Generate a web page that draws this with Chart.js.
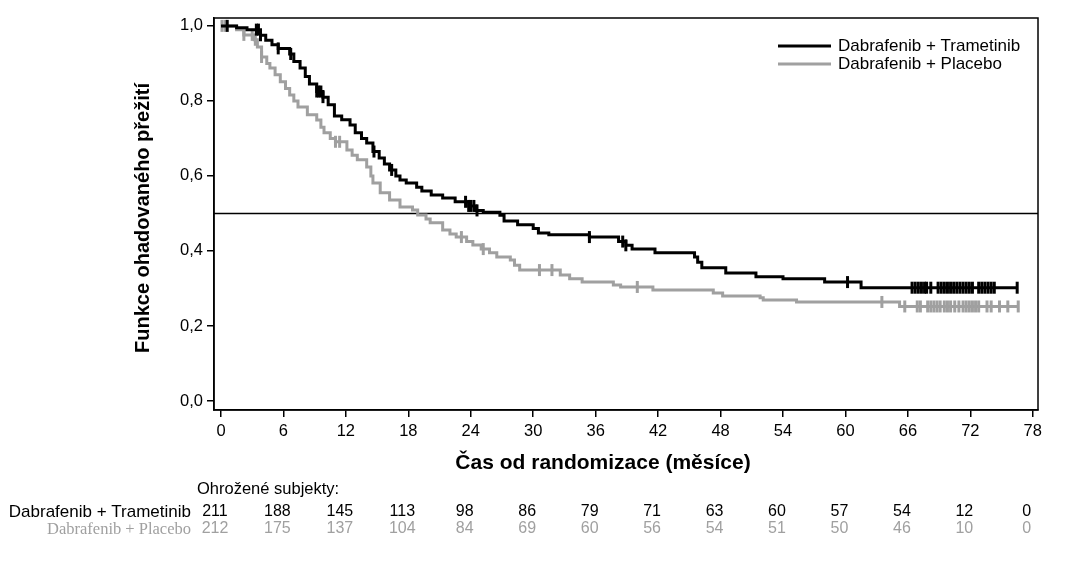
<!DOCTYPE html>
<html>
<head>
<meta charset="utf-8">
<script src="https://cdn.jsdelivr.net/npm/chart.js@4.4.1/dist/chart.umd.min.js"></script>
<style>
  html, body { margin: 0; padding: 0; background: #fff; }
</style>
</head>
<body>
<canvas id="km" width="1080" height="561"></canvas>
<script>
/* KM curve: Dabrafenib + Trametinib vs Dabrafenib + Placebo */
const xTicks = [0, 6, 12, 18, 24, 30, 36, 42, 48, 54, 60, 66, 72, 78];
const yTicks = [0, 0.2, 0.4, 0.6, 0.8, 1.0];

const tramTimes = [0, 1.5, 2.5, 3.8, 4.3, 4.9, 5.5, 6.6, 7.0, 7.6, 8.1, 8.5, 9.2, 9.8, 10.3, 10.9, 11.6, 12.4, 12.9, 13.5, 14.0, 14.6, 15.2, 15.7, 16.2, 16.8, 17.2, 17.8, 18.8, 19.3, 20.2, 21.3, 22.5, 23.8, 24.5, 25.2, 26.8, 27.2, 28.5, 30.0, 30.5, 31.5, 35.4, 38.2, 38.9, 39.5, 41.7, 45.5, 45.8, 46.2, 48.5, 51.4, 54.0, 58.0, 61.5, 76.5];
const tramSurv  = [1.0, 0.995, 0.99, 0.975, 0.962, 0.95, 0.94, 0.925, 0.905, 0.888, 0.865, 0.845, 0.825, 0.81, 0.79, 0.76, 0.75, 0.736, 0.715, 0.70, 0.688, 0.665, 0.648, 0.632, 0.616, 0.600, 0.589, 0.581, 0.570, 0.560, 0.549, 0.541, 0.531, 0.520, 0.508, 0.503, 0.495, 0.480, 0.470, 0.460, 0.448, 0.443, 0.437, 0.425, 0.415, 0.405, 0.395, 0.384, 0.37, 0.355, 0.341, 0.331, 0.326, 0.317, 0.302, 0.302];
const tramCensor = [0.6, 3.4, 3.6, 3.8, 5.5, 6.7, 9.2, 9.4, 9.6, 9.8, 14.7, 16.4, 23.5, 23.8, 24.0, 24.3, 24.6, 35.4, 38.6, 38.9, 60.2, 66.4, 66.7, 67.0, 67.3, 67.6, 67.8, 68.2, 68.9, 69.2, 69.5, 69.8, 70.1, 70.4, 70.7, 71.0, 71.3, 71.6, 71.9, 72.2, 72.8, 73.1, 73.4, 73.7, 74.0, 74.3, 76.5];

const placTimes = [0, 1.5, 2.2, 3.2, 3.5, 3.9, 4.4, 4.7, 5.2, 5.7, 6.2, 6.6, 7.0, 7.4, 8.3, 9.2, 9.6, 9.9, 10.5, 11.0, 12.1, 12.6, 13.1, 14.0, 14.4, 14.6, 15.3, 16.2, 17.2, 18.4, 18.9, 19.7, 20.1, 21.3, 22.0, 22.6, 23.6, 24.2, 25.0, 25.8, 26.5, 27.8, 28.2, 28.7, 32.6, 33.5, 34.7, 37.7, 38.4, 41.5, 47.3, 48.2, 51.8, 52.1, 55.3, 65.2, 76.6];
const placSurv  = [1.0, 0.99, 0.976, 0.963, 0.944, 0.917, 0.90, 0.888, 0.87, 0.851, 0.833, 0.816, 0.80, 0.784, 0.763, 0.749, 0.73, 0.715, 0.70, 0.691, 0.669, 0.655, 0.643, 0.624, 0.60, 0.581, 0.555, 0.536, 0.517, 0.509, 0.496, 0.485, 0.475, 0.456, 0.445, 0.437, 0.425, 0.416, 0.405, 0.395, 0.384, 0.376, 0.362, 0.349, 0.336, 0.326, 0.317, 0.309, 0.304, 0.296, 0.288, 0.280, 0.275, 0.269, 0.264, 0.252, 0.252];
const placCensor = [0.1, 0.4, 2.2, 3.0, 3.3, 3.9, 11.0, 11.4, 23.1, 25.2, 30.6, 31.8, 40.0, 63.5, 65.7, 66.9, 67.2, 67.9, 68.2, 68.5, 68.8, 69.1, 69.5, 69.8, 70.1, 70.5, 70.9, 71.3, 71.6, 71.9, 72.2, 72.5, 72.8, 73.6, 74.0, 74.8, 75.6, 76.6];

const riskTimes = [0, 6, 12, 18, 24, 30, 36, 42, 48, 54, 60, 66, 72, 78];
const riskTram  = [211, 188, 145, 113, 98, 86, 79, 71, 63, 60, 57, 54, 12, 0];
const riskPlac  = [212, 175, 137, 104, 84, 69, 60, 56, 54, 51, 50, 46, 10, 0];

const BLACK = '#000000';
const GREY = '#a0a0a0';
const SANS = "'Liberation Sans', Arial, sans-serif";
const SERIF = "'Liberation Serif', 'Times New Roman', serif";

function toPoints(times, surv) {
  return times.map((t, i) => ({ x: t, y: surv[i] }));
}

// survival value of the step curve at time t
function survAt(times, surv, t) {
  let v = surv[0];
  for (let i = 0; i < times.length; i++) {
    if (times[i] <= t) v = surv[i];
  }
  return v;
}

function censorPoints(cens, times, surv) {
  return cens.map(t => ({ x: t, y: survAt(times, surv, t) }));
}

const decorations = {
  id: 'decorations',
  beforeDatasetsDraw(chart) {
    const { ctx, chartArea: a, scales: { y } } = chart;
    ctx.save();
    ctx.strokeStyle = BLACK;
    ctx.lineWidth = 1.5;
    const yh = Math.round(y.getPixelForValue(0.5)) + 0.5;
    ctx.beginPath();
    ctx.moveTo(a.left, yh);
    ctx.lineTo(a.right, yh);
    ctx.stroke();
    ctx.restore();
  },
  afterDraw(chart) {
    const { ctx, chartArea: a, scales: { x } } = chart;
    ctx.save();
    // box
    ctx.strokeStyle = BLACK;
    ctx.lineWidth = 1.5;
    ctx.strokeRect(a.left, a.top, a.right - a.left, a.bottom - a.top);

    // axis titles
    ctx.fillStyle = BLACK;
    ctx.font = 'bold 20px ' + SANS;
    ctx.textAlign = 'center';
    ctx.textBaseline = 'middle';
    ctx.save();
    ctx.translate(143, 218);
    ctx.rotate(-Math.PI / 2);
    ctx.fillText('Funkce ohadovaného přežití', 0, 0);
    ctx.restore();
    ctx.font = 'bold 21px ' + SANS;
    ctx.fillText('Čas od randomizace (měsíce)', 603, 463);

    // legend
    ctx.lineWidth = 3;
    ctx.strokeStyle = BLACK;
    ctx.beginPath(); ctx.moveTo(778, 46); ctx.lineTo(831, 46); ctx.stroke();
    ctx.strokeStyle = GREY;
    ctx.beginPath(); ctx.moveTo(778, 64); ctx.lineTo(831, 64); ctx.stroke();
    ctx.font = '17px ' + SANS;
    ctx.textAlign = 'left';
    ctx.fillStyle = BLACK;
    ctx.fillText('Dabrafenib + Trametinib', 838, 46);
    ctx.fillText('Dabrafenib + Placebo', 838, 64);

    // number at risk table
    ctx.font = '16.5px ' + SANS;
    ctx.fillText('Ohrožené subjekty:', 197, 489);
    ctx.textAlign = 'right';
    ctx.font = '17px ' + SANS;
    ctx.fillText('Dabrafenib + Trametinib', 191, 512);
    ctx.fillStyle = GREY;
    ctx.font = '16.5px ' + SERIF;
    ctx.fillText('Dabrafenib + Placebo', 191, 530);
    ctx.font = '16px ' + SANS;
    ctx.textAlign = 'center';
    riskTimes.forEach((t, i) => {
      const px = x.getPixelForValue(t) - 6;
      ctx.fillStyle = BLACK;
      ctx.fillText(String(riskTram[i]), px, 512);
      ctx.fillStyle = GREY;
      ctx.fillText(String(riskPlac[i]), px, 529);
    });
    ctx.restore();
  }
};

const censorStyle = {
  showLine: false,
  pointStyle: 'line',
  rotation: 90,
  pointRadius: 6,
  pointBorderWidth: 3,
  pointHoverRadius: 6
};

new Chart(document.getElementById('km'), {
  type: 'line',
  data: {
    datasets: [
      { label: 'Dabrafenib + Trametinib', data: toPoints(tramTimes, tramSurv), borderColor: BLACK, borderWidth: 3, stepped: 'before', pointRadius: 0, fill: false, order: 1 },
      { label: 'Dabrafenib + Placebo', data: toPoints(placTimes, placSurv), borderColor: GREY, borderWidth: 3, stepped: 'before', pointRadius: 0, fill: false, order: 2 },
      Object.assign({ label: 'cens T', data: censorPoints(tramCensor, tramTimes, tramSurv), borderColor: BLACK, order: 0 }, censorStyle),
      Object.assign({ label: 'cens P', data: censorPoints(placCensor, placTimes, placSurv), borderColor: GREY, order: 1 }, censorStyle)
    ]
  },
  options: {
    responsive: false,
    animation: false,
    events: [],
    layout: { padding: { top: 18, right: 42, left: 0, bottom: 0 } },
    plugins: { legend: { display: false }, tooltip: { enabled: false } },
    scales: {
      x: {
        type: 'linear',
        min: -0.67,
        max: 78.5,
        afterFit(s) { s.height = 151; },
        afterBuildTicks(s) { s.ticks = xTicks.map(v => ({ value: v })); },
        grid: { display: true, drawOnChartArea: false, drawTicks: true, tickLength: 7, color: BLACK, lineWidth: 1.5 },
        border: { display: true, color: BLACK, width: 1.5 },
        ticks: { color: BLACK, font: { family: SANS, size: 16.5 }, padding: 5, maxRotation: 0, autoSkip: false }
      },
      y: {
        type: 'linear',
        min: -0.024,
        max: 1.021,
        afterFit(s) { s.width = 214; },
        afterBuildTicks(s) { s.ticks = yTicks.map(v => ({ value: v })); },
        grid: { display: true, drawOnChartArea: false, drawTicks: true, tickLength: 7, color: BLACK, lineWidth: 1.5 },
        border: { display: true, color: BLACK, width: 1.5 },
        ticks: { color: BLACK, font: { family: SANS, size: 16.5 }, padding: 4, callback: v => v.toFixed(1).replace('.', ',') }
      }
    }
  },
  plugins: [decorations]
});
</script>
</body>
</html>
